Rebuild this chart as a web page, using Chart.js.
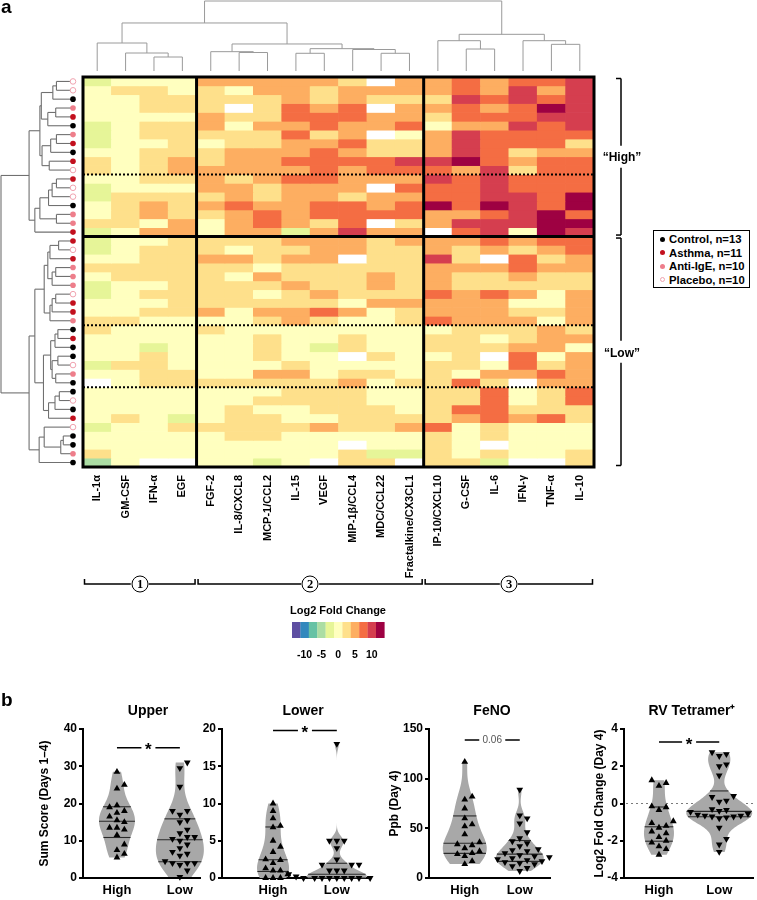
<!DOCTYPE html>
<html><head><meta charset="utf-8"><title>Cytokine heatmap and clinical outcomes</title>
<script src="https://cdn.jsdelivr.net/npm/chart.js@4.4.1/dist/chart.umd.min.js"></script>
<style>
html,body{margin:0;padding:0;background:#fff}
#wrap{position:relative;width:757px;height:900px;overflow:hidden;font-family:"Liberation Sans",Arial,Helvetica,sans-serif;color:#000}
#wrap canvas{position:absolute}
.lbl{position:absolute;font-weight:bold;white-space:nowrap;line-height:1}
.circ{position:absolute;width:15px;height:15px;border:1.5px solid #000;border-radius:50%;background:#fff;font-family:"Liberation Serif","DejaVu Serif",serif;font-weight:bold;font-size:12.5px;line-height:15px;text-align:center;transform:translate(-50%,-50%)}
#legend{position:absolute;left:653px;top:230px;width:95px;height:56px;border:1.5px solid #000;background:#fff}
.li{position:absolute;left:6px;font-weight:bold;font-size:11.3px;line-height:1;white-space:nowrap}
.dot{display:inline-block;width:5px;height:5px;border-radius:50%;margin-right:4px;vertical-align:middle;position:relative;top:-1px;box-sizing:border-box}
</style></head>
<body><div id="wrap">
<canvas id="heat" width="757" height="690" style="left:0;top:0"></canvas>
<canvas id="c1" width="205" height="205" style="left:0;top:695px"></canvas>
<canvas id="c2" width="175" height="205" style="left:200px;top:695px"></canvas>
<canvas id="c3" width="180" height="205" style="left:375px;top:695px"></canvas>
<canvas id="c4" width="202" height="205" style="left:555px;top:695px"></canvas>
</div>
<script>
// ---------------- DATA ----------------
const cytokines = ['IL-1α','GM-CSF','IFN-α','EGF','FGF-2','IL-8/CXCL8','MCP-1/CCL2','IL-15','VEGF','MIP-1β/CCL4','MDC/CCL22','Fractalkine/CX3CL1','IP-10/CXCL10','G-CSF','IL-6','IFN-γ','TNF-α','IL-10'];
// log2 fold change per subject (row) x cytokine (column); null = missing
const heatValues = [
[-2.5,0.5,0.5,0.5, 5,5,5,5,5,2.5,null,5, 5,7.5,5,7.5,7.5,10],
[0.5,2.5,2.5,0.5, 2.5,0.5,5,5,2.5,5,5,5, 5,7.5,5,10,5,10],
[0.5,0.5,2.5,2.5, 2.5,2.5,2.5,5,2.5,5,2.5,2.5, 2.5,10,7.5,10,7.5,10],
[0.5,0.5,2.5,2.5, 2.5,null,2.5,7.5,5,7.5,null,5, 5,7.5,5,7.5,12,10],
[0.5,0.5,0.5,0.5, 5,2.5,2.5,7.5,7.5,7.5,5,5, 2.5,7.5,7.5,7.5,10,10],
[-2.5,0.5,2.5,2.5, 5,0.5,5,5,7.5,5,5,7.5, 0.5,5,5,10,7.5,10],
[-2.5,0.5,2.5,2.5, 2.5,2.5,2.5,7.5,2.5,5,null,0.5, 5,10,7.5,7.5,7.5,7.5],
[-2.5,0.5,0.5,2.5, 0.5,2.5,2.5,5,5,7.5,2.5,2.5, 5,10,7.5,7.5,7.5,2.5],
[0.5,0.5,2.5,2.5, 2.5,5,5,5,7.5,5,2.5,2.5, 5,10,7.5,2.5,5,5],
[2.5,0.5,2.5,5, 2.5,5,5,7.5,7.5,7.5,7.5,10, 10,12,7.5,5,7.5,7.5],
[2.5,0.5,2.5,5, 5,5,5,5,7.5,5,7.5,7.5, 7.5,5,10,2.5,7.5,7.5],
[0.5,0.5,2.5,2.5, 5,2.5,5,7.5,7.5,5,5,5, 10,7.5,10,7.5,7.5,7.5],
[-2.5,0.5,0.5,0.5, 5,5,2.5,5,5,5,null,7.5, 7.5,7.5,10,7.5,7.5,7.5],
[-2.5,2.5,2.5,2.5, 2.5,5,2.5,5,5,2.5,5,5, 7.5,7.5,10,10,7.5,12],
[0.5,2.5,5,2.5, 5,7.5,5,5,7.5,7.5,5,7.5, 12,7.5,12,10,7.5,12],
[0.5,2.5,5,2.5, 2.5,5,7.5,5,7.5,7.5,7.5,7.5, 5,5,7.5,10,12,7.5],
[2.5,2.5,0.5,5, 0.5,5,7.5,5,2.5,7.5,null,2.5, 5,10,10,10,12,12],
[-2.5,0.5,5,5, 0.5,5,5,-2.5,5,10,5,5, null,7.5,10,0.5,12,10],
[-2.5,0.5,0.5,2.5, 2.5,2.5,2.5,5,5,5,2.5,5, 5,5,7.5,5,7.5,7.5],
[-2.5,0.5,2.5,2.5, 2.5,0.5,2.5,2.5,5,5,2.5,2.5, 5,2.5,5,2.5,5,7.5],
[0.5,0.5,2.5,2.5, 5,5,2.5,5,5,null,2.5,2.5, 10,2.5,null,7.5,2.5,5],
[2.5,2.5,2.5,2.5, 2.5,2.5,0.5,2.5,2.5,2.5,2.5,2.5, 5,5,5,7.5,5,5],
[0.5,2.5,2.5,2.5, 2.5,0.5,5,2.5,2.5,2.5,5,2.5, 5,2.5,2.5,5,2.5,2.5],
[-2.5,0.5,0.5,2.5, 2.5,2.5,2.5,5,2.5,2.5,5,2.5, 5,2.5,2.5,2.5,2.5,2.5],
[-2.5,0.5,2.5,2.5, 2.5,2.5,0.5,2.5,5,2.5,2.5,2.5, 7.5,5,7.5,5,0.5,5],
[0.5,0.5,0.5,2.5, 2.5,2.5,2.5,2.5,2.5,0.5,5,5, 5,5,5,0.5,0.5,5],
[0.5,0.5,2.5,2.5, 5,0.5,5,5,7.5,5,0.5,2.5, 5,5,5,2.5,2.5,5],
[2.5,2.5,0.5,0.5, 0.5,0.5,2.5,5,2.5,0.5,0.5,2.5, 7.5,5,5,5,0.5,5],
[2.5,0.5,0.5,0.5, 2.5,0.5,0.5,0.5,0.5,0.5,0.5,0.5, 0.5,2.5,2.5,2.5,5,2.5],
[0.5,0.5,0.5,0.5, 0.5,0.5,2.5,0.5,0.5,2.5,0.5,0.5, 2.5,2.5,0.5,2.5,5,5],
[0.5,0.5,-2.5,0.5, 0.5,0.5,2.5,0.5,-2.5,2.5,0.5,0.5, 2.5,2.5,2.5,5,5,0.5],
[0.5,0.5,2.5,0.5, 0.5,0.5,2.5,0.5,0.5,null,2.5,0.5, 0.5,2.5,null,7.5,0.5,5],
[-2.5,2.5,2.5,0.5, 0.5,0.5,0.5,2.5,0.5,0.5,0.5,0.5, 2.5,2.5,0.5,7.5,2.5,5],
[0.5,0.5,2.5,2.5, 0.5,0.5,5,5,0.5,2.5,2.5,0.5, 2.5,0.5,5,5,7.5,5],
[null,0.5,2.5,2.5, 2.5,2.5,2.5,2.5,2.5,5,0.5,2.5, 2.5,7.5,2.5,null,5,5],
[0.5,0.5,0.5,0.5, 0.5,0.5,0.5,2.5,2.5,2.5,0.5,0.5, 2.5,2.5,7.5,0.5,2.5,7.5],
[0.5,0.5,0.5,0.5, 0.5,0.5,2.5,2.5,2.5,2.5,0.5,0.5, 2.5,2.5,7.5,0.5,2.5,7.5],
[0.5,0.5,0.5,0.5, 0.5,2.5,0.5,0.5,2.5,2.5,2.5,0.5, 2.5,7.5,7.5,2.5,2.5,2.5],
[0.5,2.5,0.5,-2.5, 0.5,2.5,2.5,0.5,0.5,2.5,2.5,2.5, 2.5,5,7.5,5,7.5,2.5],
[-2.5,0.5,0.5,2.5, 2.5,2.5,2.5,2.5,5,2.5,2.5,5, 7.5,0.5,2.5,0.5,0.5,0.5],
[0.5,0.5,0.5,0.5, 0.5,2.5,2.5,0.5,0.5,0.5,0.5,0.5, 2.5,0.5,2.5,0.5,0.5,0.5],
[0.5,0.5,0.5,0.5, 0.5,0.5,0.5,0.5,0.5,null,0.5,0.5, 2.5,0.5,null,0.5,0.5,0.5],
[2.5,0.5,0.5,0.5, 0.5,0.5,0.5,0.5,0.5,2.5,-2.5,-2.5, 2.5,0.5,2.5,0.5,0.5,2.5],
[-5,0.5,null,null, 0.5,0.5,-2.5,0.5,null,2.5,2.5,null, 2.5,2.5,-2.5,null,null,2.5]
];
// subject group per row: C=Control, S=Asthma, I=Anti-IgE, P=Placebo
const rowGroups = ['P','P','C','I','S','C','I','S','C','S','P','S','P','P','C','I','I','S',
  'S','P','S','I','I','I','P','S','S','I','C','S','C','C','P','I','C','C','P','C','S','P','C','C','I','C'];
const groupNames = {C:'Control, n=13', S:'Asthma, n=11', I:'Anti-IgE, n=10', P:'Placebo, n=10'};
const colorBins = ['#5e4fa2','#3288bd','#66c2a5','#abdda4','#e6f598','#ffffbf','#fee08b','#fdae61','#f46d43','#d53e4f','#9e0142'];
const colorTicks = ['-10','-5','0','5','10'];
// dendrograms: [left, right, height]; leaves are column / row indices
const colTree = [[[0,[1,[2,3,2.0],2.57],4.0],[[4,[5,6,2.64],2.76],[[7,8,2.53],[9,[10,11,2.53],3.07],3.19],3.86],6.86],[[12,[13,14,3.14],4.33],[15,[16,17,3.81],4.33],5.24],10];
const highA = [[[[0,1,2.3],2,2.8],[[3,4,2.4],5,3.5],4.4],[[[6,7,2.3],8,3.1],[9,10,3.3],4.3],4.6];
const highB = [[[[[11,12,2.3],13,2.9],14,3.4],[15,16,2.3],4.6],17,5.3];
const lowA = [[[[18,19,2.0],20,3.2],[[21,22,2.4],23,2.9],3.5],[[[24,25,2.4],26,2.9],27,3.2],4.0];
const lowB = [[[[28,29,2.1],30,2.5],[[31,32,2.1],[33,34,2.4],2.9],3.1],[[[35,36,1.9],37,2.5],38,3.4],4.1];
const lowC = [[39,[[40,41,1.35],42,1.7],4.0],43,4.7];
const rowTree = [[highA,highB,6.1],[[lowA,lowB,5.3],lowC,6.1],10];
const clusterBreakRows = [18];
const subClusterRows = [11,28,35];
const moduleBreakCols = [4,12];
const modules = [[0,4,'1'],[4,12,'2'],[12,18,'3']];
const clusters = [[0,18,'“High”'],[18,44,'“Low”']];

// panel b
const groupsB = ['High','Low'];
const upperHigh = [28.5,25,24,19.5,19,18,17.5,16.5,15.5,15,13.5,13.5,13,11.5,9,7.5,6.5,5.5];
const upperLow  = [31,29.5,24.5,18,18,17,15.5,15,13,12,11,11,10.5,10,9,8,7,6.5,6,4.5,4,4,4,3.5,2,0.3];
const lowerHigh = [10,9,8,7,6.8,5,4.2,3.5,2.5,2.4,2,1.3,1,1,0.5,0,0,0];
const lowerLow  = [18,5,5,5,4,2.5,1.8,1.8,1.8,1,1,1,0.5,0.5,0.3,0.2,0.2,0,0,0,0,0,0,0,0,0];
const fenoHigh  = [117,82,79,70,60,54,52,44,36,34,33,30,27,25,24,22,17,14];
const fenoLow   = [89,63,60,55,46,40,37,35,32,29,28,27,25,23,22,21,20,19,18,17,16,15,14,12,10,7];
const rvHigh    = [1.25,1.1,0.95,-0.15,-0.2,-0.35,-0.95,-1.05,-1.2,-1.3,-1.5,-1.6,-1.8,-2.0,-2.1,-2.3,-2.45,-2.75];
const rvLow     = [2.75,2.65,2.55,2.1,2.0,1.5,0.4,0.35,0.15,0.1,-0.3,-0.35,-0.4,-0.45,-0.55,-0.6,-0.65,-0.65,-0.7,-0.7,-0.75,-0.8,-1.3,-1.9,-2.2,-2.6];
const upperTicks = [0,10,20,30,40];
const lowerTicks = [0,5,10,15,20];
const fenoTicks = [0,50,100,150];
const rvTicks = [-4,-2,0,2,4];

// ---------------- HELPERS ----------------
const FONT = "'Liberation Sans', Arial, Helvetica, sans-serif";
Chart.defaults.font.family = FONT;
Chart.defaults.color = '#000';
const wrap = document.getElementById('wrap');
function addText(txt, x, y, size, o) {
  o = o || {};
  const d = document.createElement('div');
  d.className = 'lbl'; d.textContent = txt;
  d.style.fontSize = size + 'px'; d.style.left = x + 'px'; d.style.top = y + 'px';
  if (!o.lt) d.style.transform = 'translate(-50%,-50%)';
  if (o.color) d.style.color = o.color;
  wrap.appendChild(d); return d;
}
function binColor(v) {
  if (v === null || v === undefined) return '#ffffff';
  let k = Math.round(v / 2.5) + 5;
  k = Math.max(0, Math.min(colorBins.length - 1, k));
  return colorBins[k];
}
const groupFill = {C:'#000000', S:'#c3101e', I:'#ee7e8b', P:'#ffffff'};
const placeboStroke = '#f0a3b0';

// ---------------- HEATMAP ----------------
const heatDecor = {
  id: 'heatDecor',
  afterDatasetsDraw(chart) {
    const {ctx, chartArea: a, scales: {x, y}} = chart;
    const colW = x.getPixelForValue(1) - x.getPixelForValue(0);
    const cE = i => x.getPixelForValue(0) - colW / 2 + i * colW;
    const rE = r => y.getPixelForValue(r);
    const line = (x1, y1, x2, y2) => { ctx.beginPath(); ctx.moveTo(x1, y1); ctx.lineTo(x2, y2); ctx.stroke(); };
    ctx.save();
    ctx.strokeStyle = '#000';
    ctx.lineWidth = 2; ctx.setLineDash([2, 2]);
    subClusterRows.forEach(r => line(a.left, rE(r), a.right, rE(r)));
    ctx.setLineDash([]); ctx.lineWidth = 3;
    moduleBreakCols.forEach(c => line(cE(c), a.top, cE(c), a.bottom));
    clusterBreakRows.forEach(r => line(a.left, rE(r), a.right, rE(r)));
    ctx.strokeRect(a.left, a.top, a.right - a.left, a.bottom - a.top);

    // column dendrogram
    const cb = a.top - 6, cs = (cb - 1) / 10;
    ctx.strokeStyle = '#9a9a9a'; ctx.lineWidth = 1;
    const walkCol = n => {
      if (typeof n === 'number') return {p: x.getPixelForValue(n), h: 0};
      const L = walkCol(n[0]), R = walkCol(n[1]); const yy = cb - n[2] * cs;
      line(L.p, cb - L.h * cs, L.p, yy); line(R.p, cb - R.h * cs, R.p, yy); line(L.p, yy, R.p, yy);
      return {p: (L.p + R.p) / 2, h: n[2]};
    };
    walkCol(colTree);

    // row dendrogram
    const rb = a.left - 10, rs = (rb - 1) / 10;
    ctx.strokeStyle = '#707070'; ctx.lineWidth = 1.1;
    const walkRow = n => {
      if (typeof n === 'number') return {p: y.getPixelForValue(n + 0.5), h: 0};
      const L = walkRow(n[0]), R = walkRow(n[1]); const xx = rb - n[2] * rs;
      line(rb - L.h * rs, L.p, xx, L.p); line(rb - R.h * rs, R.p, xx, R.p); line(xx, L.p, xx, R.p);
      return {p: (L.p + R.p) / 2, h: n[2]};
    };
    walkRow(rowTree);
    rowGroups.forEach((g, r) => {
      ctx.beginPath(); ctx.arc(rb, y.getPixelForValue(r + 0.5), 2.8, 0, Math.PI * 2);
      ctx.fillStyle = groupFill[g]; ctx.fill();
      if (g === 'P') { ctx.strokeStyle = placeboStroke; ctx.lineWidth = 1; ctx.stroke(); }
    });

    // cluster brackets (right)
    ctx.strokeStyle = '#000'; ctx.lineWidth = 1.5;
    clusters.forEach(([r0, r1]) => {
      const y0 = rE(r0) + 1.5, y1 = rE(r1) - 1.5, ym = (y0 + y1) / 2, bx = a.right + 27;
      line(bx - 5, y0, bx, y0); line(bx, y0, bx, ym - 11); line(bx, ym + 11, bx, y1); line(bx - 5, y1, bx, y1);
    });
    // module brackets (bottom)
    const by = 584;
    modules.forEach(([c0, c1]) => {
      const x0 = cE(c0) + 1.5, x1 = cE(c1) - 1.5, cx = (cE(c0) + cE(c1)) / 2;
      ctx.beginPath();
      ctx.moveTo(x0, by - 5); ctx.lineTo(x0, by); ctx.lineTo(cx - 9, by);
      ctx.moveTo(cx + 9, by); ctx.lineTo(x1, by); ctx.lineTo(x1, by - 5);
      ctx.stroke();
    });
    // colour key
    colorBins.forEach((c, i) => { ctx.fillStyle = c; ctx.fillRect(292 + i * 8.4, 622, 8.6, 16); });
    ctx.restore();
  }
};

new Chart(document.getElementById('heat'), {
  type: 'bar',
  data: {
    labels: cytokines,
    datasets: heatValues.map((row, r) => ({
      label: 'row ' + r,
      data: row.map(() => 1),
      backgroundColor: row.map(binColor),
      borderWidth: 0,
      barPercentage: 1,
      categoryPercentage: 1,
      stack: 'cells'
    }))
  },
  options: {
    responsive: false, animation: false, devicePixelRatio: 1, events: [],
    layout: {padding: {left: 83, top: 77, right: 163, bottom: 103}},
    plugins: {legend: {display: false}, tooltip: {enabled: false}},
    scales: {
      x: {
        stacked: true,
        grid: {display: false, drawTicks: false},
        border: {display: false},
        ticks: {autoSkip: false, minRotation: 90, maxRotation: 90, padding: 8, color: '#000',
                font: {family: FONT, weight: 'bold', size: 11}},
        afterFit: s => { s.height = 120; }
      },
      y: {stacked: true, min: 0, max: 44, reverse: true, display: false}
    }
  },
  plugins: [heatDecor]
});

// ---------------- VIOLINS ----------------
function quant(sorted, p) {
  const n = sorted.length; let pos = p * (n + 1) - 1;
  pos = Math.max(0, Math.min(n - 1, pos));
  const lo = Math.floor(pos), hi = Math.ceil(pos);
  return sorted[lo] + (sorted[hi] - sorted[lo]) * (pos - lo);
}
function stats(vals) {
  const s = vals.slice().sort((a, b) => a - b), n = s.length;
  const mean = s.reduce((a, b) => a + b, 0) / n;
  const sd = Math.sqrt(s.reduce((a, b) => a + (b - mean) * (b - mean), 0) / (n - 1));
  const q1 = quant(s, 0.25), med = quant(s, 0.5), q3 = quant(s, 0.75);
  let sp = Math.min(sd, (q3 - q1) / 1.34); if (!(sp > 0)) sp = sd;
  return {min: s[0], max: s[n - 1], q1, med, q3, bw: 0.9 * sp * Math.pow(n, -0.2)};
}
function kde(vals, bw, v) {
  let t = 0; for (const x of vals) { const z = (v - x) / bw; t += Math.exp(-0.5 * z * z); }
  return t / (vals.length * bw * Math.sqrt(2 * Math.PI));
}
function swarm(vals, pxY, pxX, size) {
  const idx = vals.map((_, i) => i).sort((a, b) => vals[a] - vals[b]);
  const placed = [], off = vals.map(() => 0);
  idx.forEach(i => {
    const py = vals[i] * pxY;
    for (let k = 0; k < 80; k++) {
      const dx = (k % 2 ? 1 : -1) * Math.ceil(k / 2) * size * 0.5;
      if (placed.every(p => (p.x - dx) ** 2 + (p.y - py) ** 2 >= size * size)) {
        placed.push({x: dx, y: py}); off[i] = dx / pxX; break;
      }
    }
  });
  return off;
}
function makeViolin(cfg) {
  const areaW = cfg.W - cfg.axisW - cfg.padRight, areaH = 149;
  const pxX = areaW / (cfg.xmax - cfg.xmin), pxY = areaH / (cfg.ymax - cfg.ymin);
  const sets = [cfg.high, cfg.low];
  const offs = sets.map(v => swarm(v, pxY, pxX, 7.4));
  const plug = {
    id: 'violin_' + cfg.id,
    beforeDatasetsDraw(chart) {
      const {ctx, chartArea: a, scales: {x, y}} = chart;
      ctx.save();
      if (cfg.zeroLine) {
        ctx.strokeStyle = '#7a7a7a'; ctx.lineWidth = 1.2; ctx.setLineDash([2, 3]);
        ctx.beginPath(); ctx.moveTo(a.left + 2, y.getPixelForValue(0)); ctx.lineTo(a.right, y.getPixelForValue(0)); ctx.stroke();
        ctx.setLineDash([]);
      }
      sets.forEach((vals, g) => {
        const s = stats(vals), x0 = x.getPixelForValue(g), N = 90, pts = [];
        let dmax = 0;
        for (let k = 0; k <= N; k++) { const v = s.min + (s.max - s.min) * k / N; const d = kde(vals, s.bw, v); pts.push([v, d]); dmax = Math.max(dmax, d); }
        const w = d => cfg.halfW[g] * d / dmax;
        ctx.beginPath();
        pts.forEach(([v, d], k) => { const px = x0 - w(d), py = y.getPixelForValue(v); k ? ctx.lineTo(px, py) : ctx.moveTo(px, py); });
        for (let k = pts.length - 1; k >= 0; k--) { const [v, d] = pts[k]; ctx.lineTo(x0 + w(d), y.getPixelForValue(v)); }
        ctx.closePath(); ctx.fillStyle = '#a8a8a8'; ctx.fill();
        ctx.strokeStyle = '#2a2a2a'; ctx.lineWidth = 1.1;
        [s.q1, s.med, s.q3].forEach(q => {
          const ww = Math.max(w(kde(vals, s.bw, q)), 3), py = y.getPixelForValue(q);
          ctx.beginPath(); ctx.moveTo(x0 - ww, py); ctx.lineTo(x0 + ww, py); ctx.stroke();
        });
      });
      ctx.restore();
    },
    afterDatasetsDraw(chart) {
      const {ctx, scales: {x, y}} = chart;
      const sg = cfg.sig, x0 = x.getPixelForValue(0), x1 = x.getPixelForValue(1), xm = (x0 + x1) / 2, py = y.getPixelForValue(sg.y);
      ctx.save();
      ctx.strokeStyle = '#000'; ctx.lineWidth = 1.5;
      ctx.beginPath(); ctx.moveTo(x0, py); ctx.lineTo(xm - sg.gap, py); ctx.moveTo(xm + sg.gap, py); ctx.lineTo(x1, py); ctx.stroke();
      ctx.fillStyle = sg.color; ctx.font = sg.font; ctx.textAlign = 'center'; ctx.textBaseline = 'middle';
      ctx.fillText(sg.text, xm, py + sg.dy);
      ctx.restore();
    }
  };
  const tickFont = {family: FONT, weight: 'bold', size: 12};
  new Chart(document.getElementById(cfg.id), {
    type: 'scatter',
    data: {datasets: sets.map((vals, g) => ({
      label: groupsB[g],
      data: vals.map((v, i) => ({x: g + offs[g][i], y: v})),
      pointStyle: 'triangle', pointRadius: 3.9, rotation: g ? 180 : 0,
      backgroundColor: '#000', borderColor: '#000', borderWidth: 0, clip: false
    }))},
    options: {
      responsive: false, animation: false, devicePixelRatio: 1, events: [],
      layout: {padding: {left: 0, right: cfg.padRight, top: 34, bottom: 0}},
      plugins: {legend: {display: false}, tooltip: {enabled: false}},
      scales: {
        x: {type: 'linear', min: cfg.xmin, max: cfg.xmax,
            afterBuildTicks: s => { s.ticks = [{value: 0}, {value: 1}]; },
            ticks: {callback: v => groupsB[v], font: {family: FONT, weight: 'bold', size: 13}, color: '#000', padding: 5, maxRotation: 0},
            grid: {display: false, drawTicks: false},
            border: {display: true, width: 2, color: '#000'},
            afterFit: s => { s.height = 22; }},
        y: {min: cfg.ymin, max: cfg.ymax,
            afterBuildTicks: s => { s.ticks = cfg.ticks.map(v => ({value: v})); },
            ticks: {font: tickFont, color: '#000', padding: 2},
            grid: {drawOnChartArea: false, drawTicks: true, tickLength: 4, lineWidth: 2, color: '#000'},
            border: {display: true, width: 2, color: '#000'},
            title: {display: !!cfg.ytitle, text: cfg.ytitle || '', font: tickFont, color: '#000', padding: {top: cfg.ytitlePad || 0, bottom: 0}},
            afterFit: s => { s.width = cfg.axisW; }}
      }
    },
    plugins: [plug]
  });
  addText(cfg.title, cfg.titleX, 710, 14);
}
const starSig = y => ({y, text: '*', gap: 7, font: "bold 17px " + FONT, color: '#000', dy: 3});
makeViolin({id: 'c1', W: 205, axisW: 83, padRight: 5, xmin: -0.54, xmax: 1.32, ymin: 0, ymax: 40, ticks: upperTicks,
  high: upperHigh, low: upperLow, title: 'Upper', titleX: 148, ytitle: 'Sum Score (Days 1–4)', ytitlePad: 37.8, halfW: [18, 24], sig: starSig(35)});
makeViolin({id: 'c2', W: 175, axisW: 22, padRight: 5, xmin: -0.8, xmax: 1.52, ymin: 0, ymax: 20, ticks: lowerTicks,
  high: lowerHigh, low: lowerLow, title: 'Lower', titleX: 303, halfW: [16, 30], sig: starSig(19.8)});
makeViolin({id: 'c3', W: 180, axisW: 54, padRight: 5, xmin: -0.65, xmax: 1.55, ymin: 0, ymax: 150, ticks: fenoTicks,
  high: fenoHigh, low: fenoLow, title: 'FeNO', titleX: 492, ytitle: 'Ppb (Day 4)', ytitlePad: 12.8, halfW: [22, 24],
  sig: {y: 139, text: '0.06', gap: 13, font: "10px " + FONT, color: '#555', dy: 0}});
makeViolin({id: 'c4', W: 202, axisW: 69, padRight: 0, xmin: -0.58, xmax: 1.56, ymin: -4, ymax: 4, ticks: rvTicks,
  high: rvHigh, low: rvLow, title: 'RV Tetramer⁺', titleX: 692, ytitle: 'Log2 Fold Change (Day 4)', ytitlePad: 37.8, halfW: [15, 33], sig: starSig(3.3), zeroLine: true});

// ---------------- TEXT OVERLAYS ----------------
addText('a', 1, -3, 19, {lt: true});
addText('b', 1, 690, 19, {lt: true});
addText('“High”', 622, 157, 12);
addText('“Low”', 622, 353, 12);
[[140, '1'], [310, '2'], [509, '3']].forEach(([x, t]) => {
  const d = document.createElement('div'); d.className = 'circ'; d.textContent = t;
  d.style.left = x + 'px'; d.style.top = '584px'; wrap.appendChild(d);
});
addText('Log2 Fold Change', 338, 610, 11);
colorTicks.forEach((t, k) => addText(t, 292 + 8.4 * (2 * k + 1.5), 654, 10.5));
const lg = document.createElement('div'); lg.id = 'legend'; wrap.appendChild(lg);
['C', 'S', 'I', 'P'].forEach((g, i) => {
  const it = document.createElement('div'); it.className = 'li'; it.style.top = (3 + i * 13.6) + 'px';
  const dt = document.createElement('span'); dt.className = 'dot'; dt.style.background = groupFill[g];
  if (g === 'P') dt.style.border = '1px solid ' + placeboStroke;
  it.appendChild(dt); it.appendChild(document.createTextNode(groupNames[g]));
  lg.appendChild(it);
});
</script>
</body></html>
